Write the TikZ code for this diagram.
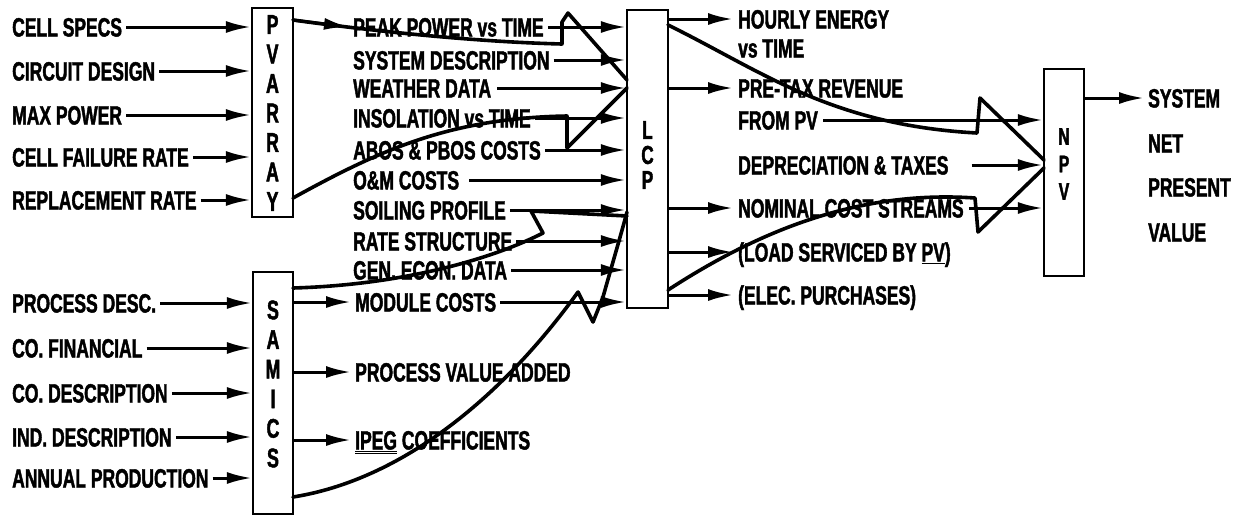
\documentclass[tikz,border=0pt]{standalone}
\usepackage{fontspec}
\setmainfont[FakeStretch=0.66, BoldFeatures={FakeBold=1.6}]{Liberation Sans}
\usetikzlibrary{arrows.meta}
\begin{document}
\begin{tikzpicture}[x=1pt,y=-1pt,
  lab/.style={anchor=west, inner sep=0pt, text height=19pt, text depth=0pt, font=\fontsize{26.5}{26.5}\selectfont\bfseries},
  box/.style={draw, line width=2.2pt, inner sep=0pt},
  boxtxt/.style={align=center, inner sep=0pt},
  arr/.style={line width=3pt, -{Latex[length=25pt,width=12pt]}},
  ln/.style={line width=3.6pt, line join=round, line cap=round},
]
\fill[white] (0,0) rectangle (1239,515);
\useasboundingbox (0,0) rectangle (1239,515);

% boxes
\node[box, minimum width=41pt, minimum height=209pt] (pv) at (272.5,112.5) {};
\node[box, minimum width=40pt, minimum height=242pt] (sam) at (273,393) {};
\node[box, minimum width=41pt, minimum height=298pt] (lcp) at (647.5,159) {};
\node[box, minimum width=40pt, minimum height=207pt] (npv) at (1064,172.5) {};
\node[boxtxt, font=\fontsize{27}{29.5}\selectfont\bfseries] (pvt) at (272.5,113) {P\\V\\A\\R\\R\\A\\Y};
\node[boxtxt, font=\fontsize{27}{29.6}\selectfont\bfseries] (samt) at (273,384) {S\\A\\M\\I\\C\\S};
\node[boxtxt, font=\fontsize{26}{25}\selectfont\bfseries] (lcpt) at (647.5,155) {L\\C\\P};
\node[boxtxt, font=\fontsize{24}{27.5}\selectfont\bfseries] (npvt) at (1064,164) {N\\P\\V};

% left inputs
\node[lab] (cs) at (12,27) {CELL SPECS};
\node[lab] (cd) at (12,71) {CIRCUIT DESIGN};
\node[lab] (mp) at (12,115) {MAX POWER};
\node[lab] (cfr) at (12,157) {CELL FAILURE RATE};
\node[lab] (rr) at (12,200) {REPLACEMENT RATE};
\node[lab] (pd) at (12,303) {PROCESS DESC.};
\node[lab] (cf) at (12,348) {CO. FINANCIAL};
\node[lab] (cod) at (12,393) {CO. DESCRIPTION};
\node[lab] (ind) at (12,437) {IND. DESCRIPTION};
\node[lab] (ap) at (12,478) {ANNUAL PRODUCTION};

% middle labels
\node[lab] (peak) at (353,27) {PEAK POWER vs TIME};
\node[lab] (sys) at (353,60) {SYSTEM DESCRIPTION};
\node[lab] (wea) at (353,88) {WEATHER DATA};
\node[lab] (ins) at (353,118) {INSOLATION vs TIME};
\node[lab] (abos) at (353,150) {ABOS \& PBOS COSTS};
\node[lab] (om) at (353,180) {O\&M COSTS};
\node[lab] (soil) at (353,210) {SOILING PROFILE};
\node[lab] (rate) at (353,241) {RATE STRUCTURE};
\node[lab] (gen) at (353,270) {GEN. ECON. DATA};
\node[lab] (mod) at (355,302) {MODULE COSTS};
\node[lab] (pva) at (355,372) {PROCESS VALUE ADDED};
\node[lab] (ipeg) at (355,440) {\underline{\underline{IPEG}} COEFFICIENTS};

% right labels
\node[lab] (he1) at (738,19) {HOURLY ENERGY};
\node[lab] (he2) at (738,48) {vs TIME};
\node[lab] (ptr1) at (738,88) {PRE-TAX REVENUE};
\node[lab] (ptr2) at (738,120) {FROM PV};
\node[lab] (dep) at (738,165) {DEPRECIATION \& TAXES};
\node[lab] (nom) at (738,208) {NOMINAL COST STREAMS};
\node[lab] (load) at (738,252) {(LOAD SERVICED BY \underline{PV})};
\node[lab] (elec) at (738,295) {(ELEC. PURCHASES)};

% far right
\node[lab] (snpv1) at (1148,98) {SYSTEM};
\node[lab] (snpv2) at (1148,143) {NET};
\node[lab] (snpv3) at (1148,187) {PRESENT};
\node[lab] (snpv4) at (1148,232) {VALUE};

% inputs to PV ARRAY and SAMICS
\foreach \n in {cs,cd,mp,cfr,rr}
  \draw[arr] ([xshift=4pt]\n.east) -- (\n.east -| pv.west);
\foreach \n in {pd,cf,cod,ind,ap}
  \draw[arr] ([xshift=4pt]\n.east) -- (\n.east -| sam.west);

% inputs to LCP
\foreach \n in {peak,sys,ins,abos,soil,rate,gen,mod}
  \draw[arr] ([xshift=4pt]\n.east) -- (\n.east -| lcp.west);
\draw[arr] ([xshift=6pt]wea.east) -- (wea.east -| lcp.west);
\draw[arr] ([xshift=10pt]om.east) -- (om.east -| lcp.west);

% SAMICS outputs
\foreach \n in {mod,pva,ipeg}
  \draw[arr] (sam.east |- \n.west) -- ([xshift=-4pt]\n.west);

% PV ARRAY output
\coordinate (pv1) at (293,20);
\draw[arr] (pv1) -- ([xshift=-4pt]peak.west);

% LCP outputs
\foreach \n in {he1,ptr1,nom,load,elec}
  \draw[arr] (lcp.east |- \n.west) -- ([xshift=-5pt]\n.west);

% NPV inputs / output
\draw[arr] ([xshift=5pt]ptr2.east) -- (ptr2.east -| npv.west);
\draw[arr] ([xshift=23pt]dep.east) -- (dep.east -| npv.west);
\draw[arr] ([xshift=5pt]nom.east) -- (nom.east -| npv.west);
\draw[arr] (npv.east |- snpv1.west) -- ([xshift=-4pt]snpv1.west);

% crossing connectors
\coordinate (k1) at (562,44);
\coordinate (k2) at (562,22);
\coordinate (k3) at (568,13);
\coordinate (k4) at (627,80);
\draw[ln] (pv1) .. controls (380,32) and (480,42) .. (k1) -- (k2) -- (k3) -- (k4);

\coordinate (m0) at (293,198);
\coordinate (m1) at (567,116);
\coordinate (m2) at (567,148);
\coordinate (m3) at (627,88);
\draw[ln] (m0) .. controls (380,150) and (450,118) .. (m1) -- (m2) -- (m3);

\coordinate (s0) at (293,288);
\coordinate (s1) at (543,233);
\coordinate (s2) at (531,211);
\coordinate (s3) at (627,216);
\draw[ln] (s0) .. controls (400,285) and (490,260) .. (s1) -- (s2) -- (s3);

\coordinate (b0) at (293,497);
\coordinate (b1) at (578,292);
\coordinate (b2) at (593,322);
\coordinate (b3) at (603,297);
\coordinate (b4) at (627,212);
\draw[ln] (b0) .. controls (400,480) and (500,400) .. (b1) -- (b2) -- (b3) .. controls (612,265) and (620,238) .. (b4);

\coordinate (a0) at (668,25);
\coordinate (a1) at (977,133);
\coordinate (a2) at (980,98);
\coordinate (a3) at (1044,160);
\draw[ln] (a0) .. controls (760,70) and (830,125) .. (a1) -- (a2) -- (a3);

\coordinate (c0) at (668,290);
\coordinate (c1) at (975,198);
\coordinate (c2) at (978,232);
\coordinate (c3) at (1044,168);
\draw[ln] (c0) .. controls (760,230) and (860,190) .. (c1) -- (c2) -- (c3);
\end{tikzpicture}
\end{document}
